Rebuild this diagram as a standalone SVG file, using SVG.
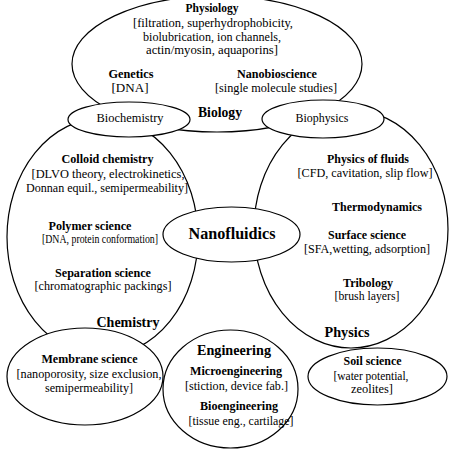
<svg xmlns="http://www.w3.org/2000/svg" width="451" height="450" viewBox="0 0 451 450">
<style>
.sh{fill:#fff;stroke:#000;stroke-width:1.2}
.t text{fill:#000;text-anchor:middle;font-family:"Liberation Serif","Times New Roman","DejaVu Serif",serif}
.r{font-size:12.3px}
.b{font-size:12px;font-weight:bold}
.h{font-size:14px;font-weight:bold}
.n{font-size:16px;font-weight:bold}
</style>
<rect width="451" height="450" fill="#fff"/>
<g class="t">
<g id="biology">
<ellipse class="sh" cx="217" cy="64" rx="145" ry="68"/>
<text class="b" x="212" y="12" textLength="53" lengthAdjust="spacingAndGlyphs">Physiology</text>
<text class="r" x="213" y="27" textLength="160" lengthAdjust="spacingAndGlyphs">[filtration, superhydrophobicity,</text>
<text class="r" x="212" y="41" textLength="138" lengthAdjust="spacingAndGlyphs">biolubrication, ion channels,</text>
<text class="r" x="212" y="54" textLength="132" lengthAdjust="spacingAndGlyphs">actin/myosin, aquaporins]</text>
<text class="b" x="131" y="78" textLength="45" lengthAdjust="spacingAndGlyphs">Genetics</text>
<text class="r" x="130" y="92" textLength="37" lengthAdjust="spacingAndGlyphs">[DNA]</text>
<text class="b" x="277" y="78" textLength="80" lengthAdjust="spacingAndGlyphs">Nanobioscience</text>
<text class="r" x="276" y="92" textLength="122" lengthAdjust="spacingAndGlyphs">[single molecule studies]</text>
<text class="h" x="220" y="117" textLength="44" lengthAdjust="spacingAndGlyphs">Biology</text>
</g>
<g id="chemistry">
<ellipse class="sh" cx="102.5" cy="237" rx="95.5" ry="119"/>
<text class="b" x="107.5" y="163" textLength="92" lengthAdjust="spacingAndGlyphs">Colloid chemistry</text>
<text class="r" x="108" y="178" textLength="153" lengthAdjust="spacingAndGlyphs">[DLVO theory, electrokinetics,</text>
<text class="r" x="107" y="192" textLength="162" lengthAdjust="spacingAndGlyphs">Donnan equil., semipermeability]</text>
<text class="b" x="90" y="230" textLength="83" lengthAdjust="spacingAndGlyphs">Polymer science</text>
<text class="r" x="100" y="243" textLength="116" lengthAdjust="spacingAndGlyphs">[DNA, protein conformation]</text>
<text class="b" x="103" y="277" textLength="96" lengthAdjust="spacingAndGlyphs">Separation science</text>
<text class="r" x="103" y="290" textLength="137" lengthAdjust="spacingAndGlyphs">[chromatographic packings]</text>
<text class="h" x="128" y="327" textLength="63" lengthAdjust="spacingAndGlyphs">Chemistry</text>
</g>
<g id="physics">
<ellipse class="sh" cx="351" cy="229" rx="97" ry="119"/>
<text class="b" x="368" y="163" textLength="82" lengthAdjust="spacingAndGlyphs">Physics of fluids</text>
<text class="r" x="365" y="177" textLength="135" lengthAdjust="spacingAndGlyphs">[CFD, cavitation, slip flow]</text>
<text class="b" x="377" y="211" textLength="90" lengthAdjust="spacingAndGlyphs">Thermodynamics</text>
<text class="b" x="367" y="239" textLength="78" lengthAdjust="spacingAndGlyphs">Surface science</text>
<text class="r" x="367" y="253" textLength="126" lengthAdjust="spacingAndGlyphs">[SFA,wetting, adsorption]</text>
<text class="b" x="368" y="287" textLength="50" lengthAdjust="spacingAndGlyphs">Tribology</text>
<text class="r" x="367" y="300" textLength="65" lengthAdjust="spacingAndGlyphs">[brush layers]</text>
<text class="h" x="347" y="337" textLength="45" lengthAdjust="spacingAndGlyphs">Physics</text>
</g>
<g id="biochemistry">
<ellipse class="sh" cx="129" cy="119.5" rx="61" ry="17.5"/>
<text class="r" x="130" y="122" textLength="67" lengthAdjust="spacingAndGlyphs">Biochemistry</text>
</g>
<g id="biophysics">
<ellipse class="sh" cx="323" cy="119" rx="61" ry="19"/>
<text class="r" x="322" y="122" textLength="53" lengthAdjust="spacingAndGlyphs">Biophysics</text>
</g>
<g id="nanofluidics">
<ellipse class="sh" cx="231.5" cy="234.5" rx="68.5" ry="27.5"/>
<text class="n" x="232" y="239" textLength="87" lengthAdjust="spacingAndGlyphs">Nanofluidics</text>
</g>
<g id="membrane-science">
<ellipse class="sh" cx="85" cy="376.5" rx="78" ry="48.5"/>
<text class="b" x="89.5" y="363" textLength="96" lengthAdjust="spacingAndGlyphs">Membrane science</text>
<text class="r" x="89" y="378" textLength="145" lengthAdjust="spacingAndGlyphs">[nanoporosity, size exclusion,</text>
<text class="r" x="89" y="392" textLength="88" lengthAdjust="spacingAndGlyphs">semipermeability]</text>
</g>
<g id="engineering">
<ellipse class="sh" cx="230.5" cy="389" rx="67.5" ry="59"/>
<text class="h" x="234" y="355" textLength="74" lengthAdjust="spacingAndGlyphs">Engineering</text>
<text class="b" x="236" y="375" textLength="92" lengthAdjust="spacingAndGlyphs">Microengineering</text>
<text class="r" x="236.5" y="390" textLength="103" lengthAdjust="spacingAndGlyphs">[stiction, device fab.]</text>
<text class="b" x="239" y="410" textLength="78" lengthAdjust="spacingAndGlyphs">Bioengineering</text>
<text class="r" x="241" y="425" textLength="105" lengthAdjust="spacingAndGlyphs">[tissue eng., cartilage]</text>
</g>
<g id="soil-science">
<ellipse class="sh" cx="377.5" cy="376.5" rx="69.5" ry="28.5"/>
<text class="b" x="372.5" y="365" textLength="58" lengthAdjust="spacingAndGlyphs">Soil science</text>
<text class="r" x="371" y="380" textLength="75" lengthAdjust="spacingAndGlyphs">[water potential,</text>
<text class="r" x="372" y="393" textLength="42" lengthAdjust="spacingAndGlyphs">zeolites]</text>
</g>
<g id="connectors"/>
</g>
</svg>
